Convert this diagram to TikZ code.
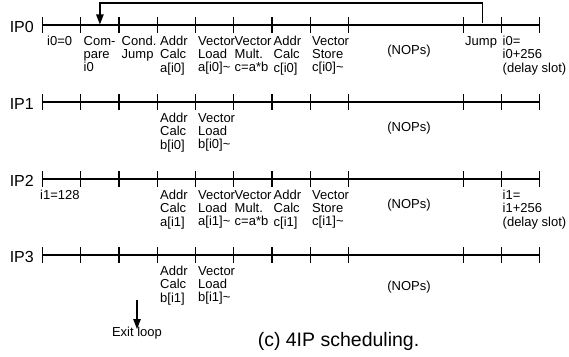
\documentclass[tikz,border=0pt]{standalone}
\usepackage{fontspec}
\setmainfont{Liberation Sans}
\usetikzlibrary{arrows.meta}
\newcommand{\lblfont}{\fontsize{13}{13.2}\selectfont}
\begin{document}
\begin{tikzpicture}[x=1pt,y=-1pt,
  lbl/.style={anchor=north west, inner sep=0pt, align=left, font=\lblfont},
  nops/.style={anchor=center, inner sep=0pt, font=\lblfont},
  iplbl/.style={anchor=east, inner sep=0pt, font=\fontsize{16}{18}\selectfont},
  tline/.style={line width=1.2pt},
  conn/.style={line width=1.2pt, -{Triangle[length=10pt,width=7.5pt]}}]
\useasboundingbox (0,0) rectangle (569,356);
% timelines
\foreach \y/\n in {25/0,102/1,179/2,255/3}{
  \node[iplbl] (ip\n) at (34,\y+2) {IP\n};
  \draw[tline] (42.5,\y) -- (539.75,\y);
  \foreach \k in {0,...,8,11,12,13}
    \draw[tline] (42.5+\k*38.25,\y-8) -- (42.5+\k*38.25,\y+8);
}
% IP0 labels
\node[lbl] (a0) at (47,36) {i0=0};
\node[lbl] (a1) at (83.5,36) {Com-\\pare\\i0};
\node[lbl] (a2) at (121.5,36) {Cond.\\Jump};
\node[lbl] (a3) at (160,36) {Addr\\Calc\\a[i0]};
\node[lbl] (a4) at (198,36) {Vector\\Load\\a[i0]\textasciitilde};
\node[lbl] (a5) at (234.5,36) {Vector\\Mult.\\c=a*b};
\node[lbl] (a6) at (273.5,36) {Addr\\Calc\\c[i0]};
\node[lbl] (a7) at (312,36) {Vector\\Store\\c[i0]\textasciitilde};
\node[nops] (a8) at (409,51) {(NOPs)};
\node[lbl] (a9) at (465,36) {Jump};
\node[lbl] (a10) at (502.5,36) {i0=\\i0+256\\(delay slot)};
% IP1 labels
\node[lbl] (b3) at (160,113) {Addr\\Calc\\b[i0]};
\node[lbl] (b4) at (198,113) {Vector\\Load\\b[i0]\textasciitilde};
\node[nops] (b8) at (409,128) {(NOPs)};
% IP2 labels
\node[lbl] (c0) at (40,190) {i1=128};
\node[lbl] (c3) at (160,190) {Addr\\Calc\\a[i1]};
\node[lbl] (c4) at (198,190) {Vector\\Load\\a[i1]\textasciitilde};
\node[lbl] (c5) at (234.5,190) {Vector\\Mult.\\c=a*b};
\node[lbl] (c6) at (273.5,190) {Addr\\Calc\\c[i1]};
\node[lbl] (c7) at (312,190) {Vector\\Store\\c[i1]\textasciitilde};
\node[nops] (c8) at (409,205) {(NOPs)};
\node[lbl] (c10) at (502.5,190) {i1=\\i1+256\\(delay slot)};
% IP3 labels
\node[lbl] (d3) at (160,266) {Addr\\Calc\\b[i1]};
\node[lbl] (d4) at (198,266) {Vector\\Load\\b[i1]\textasciitilde};
\node[nops] (d8) at (409,287) {(NOPs)};
% jump arc
\coordinate (jsrc) at (482.4,23);
\coordinate (jtop) at (482.4,3);
\coordinate (jdst) at (99.9,24.4);
\draw[conn] (jsrc) -- (jtop) -| (jdst);
% exit loop
\node[inner sep=0pt, anchor=north, font=\lblfont] (exit) at (137,327) {Exit loop};
\coordinate (exitstart) at (137,300);
\draw[conn] (exitstart) -- ([yshift=-2pt]exit.north);
% caption
\node[inner sep=0pt, font=\fontsize{19.5}{22}\selectfont] (cap) at (338.5,341) {(c) 4IP scheduling.};
\end{tikzpicture}
\end{document}
